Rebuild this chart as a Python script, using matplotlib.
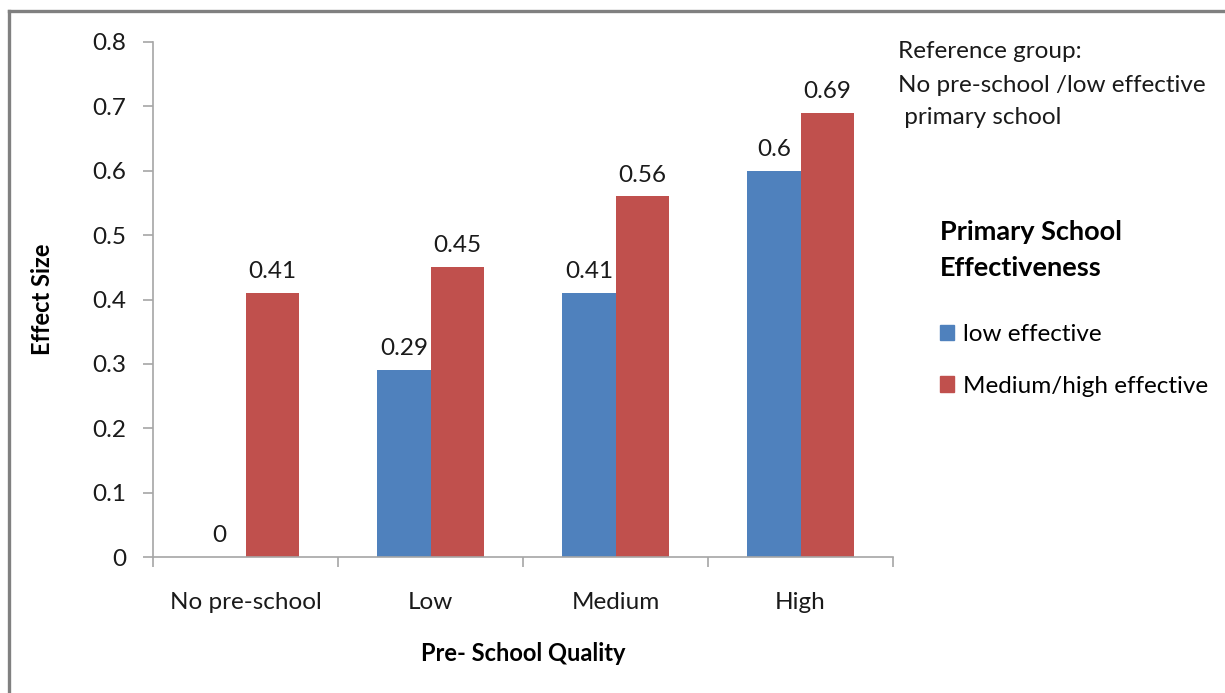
import matplotlib
matplotlib.use('Agg')
import matplotlib.pyplot as plt
from matplotlib.lines import Line2D
from matplotlib.patches import Patch
import numpy as np

plt.rcParams['font.family'] = ['Lato', 'DejaVu Sans']

categories = ['No pre-school', 'Low', 'Medium', 'High']
low_effective = [0.0, 0.29, 0.41, 0.60]
medium_high_effective = [0.41, 0.45, 0.56, 0.69]
label_low = ['0', '0.29', '0.41', '0.6']
label_med = ['0.41', '0.45', '0.56', '0.69']
yticks = [0, 0.1, 0.2, 0.3, 0.4, 0.5, 0.6, 0.7, 0.8]
ytick_labels = ['0', '0.1', '0.2', '0.3', '0.4', '0.5', '0.6', '0.7', '0.8']
note_lines = ['Reference group:', 'No pre-school /low effective', ' primary school']

blue = '#4F81BD'
red = '#C0504D'
axis_gray = '#A6A6A6'
txt_col = '#1a1a1a'
fs = 17.5

fig = plt.figure(figsize=(12.25, 6.93), dpi=100)
ax = fig.add_axes([153 / 1225, 1 - 557 / 693, 740 / 1225, 515 / 693])

x = np.arange(len(categories))
w = 0.287
bars_low = ax.bar(x - w / 2, low_effective, w, color=blue, label='low effective')
bars_med = ax.bar(x + w / 2, medium_high_effective, w, color=red, label='Medium/high effective')

for bars, labels in [(bars_low, label_low), (bars_med, label_med)]:
    for b, txt in zip(bars, labels):
        ax.annotate(txt, (b.get_x() + b.get_width() / 2, b.get_height()),
                    xytext=(0, 11), textcoords='offset pixels',
                    ha='center', va='bottom', fontsize=fs, color=txt_col)

ax.set_xlim(-0.5, len(categories) - 0.5)
ax.set_ylim(0, 0.8)
ax.set_yticks(yticks)
ax.set_yticklabels(ytick_labels, fontsize=fs, color=txt_col)
ax.set_xticks(np.arange(-0.5, len(categories), 1.0))
ax.set_xticklabels([])
ax.set_xticks(x, minor=True)
ax.set_xticklabels(categories, minor=True, fontsize=fs, color=txt_col)
ax.tick_params(axis='x', which='minor', length=0, pad=25)
ax.tick_params(axis='x', which='major', length=7, color=axis_gray, width=1.2)
ax.tick_params(axis='y', length=7, color=axis_gray, width=1.2, pad=12)

for side in ['top', 'right']:
    ax.spines[side].set_visible(False)
for side in ['left', 'bottom']:
    ax.spines[side].set_color(axis_gray)
    ax.spines[side].set_linewidth(1.2)

ax.set_ylabel('Effect Size', fontsize=17, fontweight='bold', labelpad=28)
ax.set_xlabel('Pre- School Quality', fontsize=17, fontweight='bold', labelpad=21)

for i, line in enumerate(note_lines):
    fig.text(898 / 1225, 1 - (52 + 33 * i) / 693, line,
             fontsize=fs, va='center', ha='left', color=txt_col)

handles = [Patch(color=blue), Patch(color=red)]
leg = fig.legend(handles, ['low effective', 'Medium/high effective'],
                 title='Primary School\nEffectiveness', loc='upper left',
                 bbox_to_anchor=(918 / 1225, 1 - 198 / 693), frameon=False,
                 fontsize=fs, title_fontproperties={'weight': 'bold', 'size': 19.5},
                 handlelength=0.6, handleheight=0.6, handletextpad=0.35, labelspacing=1.25,
                 alignment='left')
leg.get_title().set_linespacing(1.6)
leg._legend_box.sep = 32

# outer frame (top and left edges only visible)
fig.add_artist(Line2D([9 / 1225, 1], [1 - 11 / 693, 1 - 11 / 693], color='#808080', lw=2.4,
                      transform=fig.transFigure))
fig.add_artist(Line2D([9 / 1225, 9 / 1225], [0, 1 - 11 / 693], color='#808080', lw=2.4,
                      transform=fig.transFigure))

fig.savefig('out.png', dpi=100)
